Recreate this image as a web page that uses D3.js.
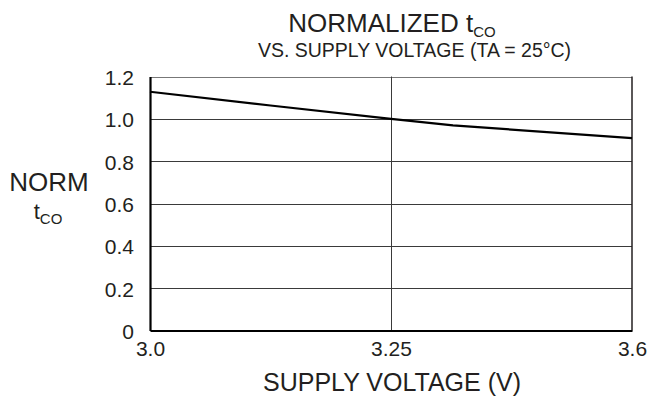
<!DOCTYPE html>
<html>
<head>
<meta charset="utf-8">
<script src="https://cdn.jsdelivr.net/npm/d3@7"></script>
<style>
  html, body { margin: 0; padding: 0; background: #fff; }
  text { font-family: "Liberation Sans", Arial, Helvetica, sans-serif; fill: #231f20; }
</style>
</head>
<body>
<svg id="chart" width="649" height="400"></svg>
<script>
// ---- data ----
const voltage = [3.0, 3.125, 3.25, 3.34, 3.6];
const normTco = [1.128, 1.063, 1.0, 0.969, 0.909];
const xTickValues = [3.0, 3.25, 3.6];
const xTickLabels = ["3.0", "3.25", "3.6"];
const yTickValues = [0, 0.2, 0.4, 0.6, 0.8, 1.0, 1.2];
const yTickLabels = ["0", "0.2", "0.4", "0.6", "0.8", "1.0", "1.2"];

(function () {
const svg = d3.select("#chart");
const pL = 150, pR = 632, pT = 76.5, pB = 330.5;

const x = d3.scaleLinear().domain([3.0, 3.25, 3.6]).range([pL, (pL + pR) / 2, pR]);
const y = d3.scaleLinear().domain([0, 1.2]).range([pB, pT]);

// horizontal grid
svg.append("g").selectAll("line").data(yTickValues.filter(v => v > 0 && v < 1.2)).join("line")
  .attr("x1", pL).attr("x2", pR)
  .attr("y1", d => Math.round(y(d)) + 0.5).attr("y2", d => Math.round(y(d)) + 0.5)
  .attr("stroke", "#3a3a3a").attr("stroke-width", 1);
// top border
svg.append("line").attr("x1", pL).attr("x2", pR)
  .attr("y1", Math.round(y(1.2)) + 0.5).attr("y2", Math.round(y(1.2)) + 0.5)
  .attr("stroke", "#777").attr("stroke-width", 1);
// vertical grid at 3.25
svg.append("line").attr("x1", Math.round(x(3.25)) + 0.5).attr("x2", Math.round(x(3.25)) + 0.5)
  .attr("y1", y(1.2)).attr("y2", y(0))
  .attr("stroke", "#3a3a3a").attr("stroke-width", 1);
// right border
svg.append("line").attr("x1", x(3.6)).attr("x2", x(3.6))
  .attr("y1", y(1.2)).attr("y2", y(0))
  .attr("stroke", "#231f20").attr("stroke-width", 1.5);

// axes
const yAxis = d3.axisLeft(y).tickValues(yTickValues).tickSize(0).tickPadding(16)
  .tickFormat((d, i) => yTickLabels[i]);
const gy = svg.append("g").attr("transform", `translate(${pL},0)`).call(yAxis);
gy.select(".domain").attr("stroke", "#000").attr("stroke-width", 2.2);
gy.selectAll("text").style("font-size", "21px").attr("fill", "#231f20")
  .attr("font-family", "Liberation Sans, Arial, sans-serif").attr("dy", "0.38em");

const xAxis = d3.axisBottom(x).tickValues(xTickValues).tickSize(0).tickPadding(11)
  .tickFormat((d, i) => xTickLabels[i]);
const gx = svg.append("g").attr("transform", `translate(0,${pB})`).call(xAxis);
gx.select(".domain").attr("stroke", "#000").attr("stroke-width", 2.2);
gx.selectAll("text").style("font-size", "21px").attr("fill", "#231f20")
  .attr("font-family", "Liberation Sans, Arial, sans-serif");

// curve
const line = d3.line().x(d => x(d[0])).y(d => y(d[1]));
svg.append("path").datum(voltage.map((v, i) => [v, normTco[i]]))
  .attr("d", line).attr("fill", "none").attr("stroke", "#000").attr("stroke-width", 2.2);

// titles
const t1 = svg.append("text").attr("x", 392).attr("y", 32).attr("text-anchor", "middle")
  .style("font-size", "26px");
t1.append("tspan").text("NORMALIZED t");
t1.append("tspan").attr("dy", 5).style("font-size", "15px").text("CO");

svg.append("text").attr("x", 414.5).attr("y", 57).attr("text-anchor", "middle")
  .style("font-size", "19.5px").text("VS. SUPPLY VOLTAGE (TA = 25°C)");

svg.append("text").attr("x", 392).attr("y", 391).attr("text-anchor", "middle")
  .style("font-size", "25px").text("SUPPLY VOLTAGE (V)");

svg.append("text").attr("x", 49).attr("y", 191).attr("text-anchor", "middle")
  .style("font-size", "26px").text("NORM");
const t2 = svg.append("text").attr("x", 48).attr("y", 219).attr("text-anchor", "middle")
  .style("font-size", "22px");
t2.append("tspan").text("t");
t2.append("tspan").attr("dy", 5).style("font-size", "15px").text("CO");
})();
</script>
</body>
</html>
